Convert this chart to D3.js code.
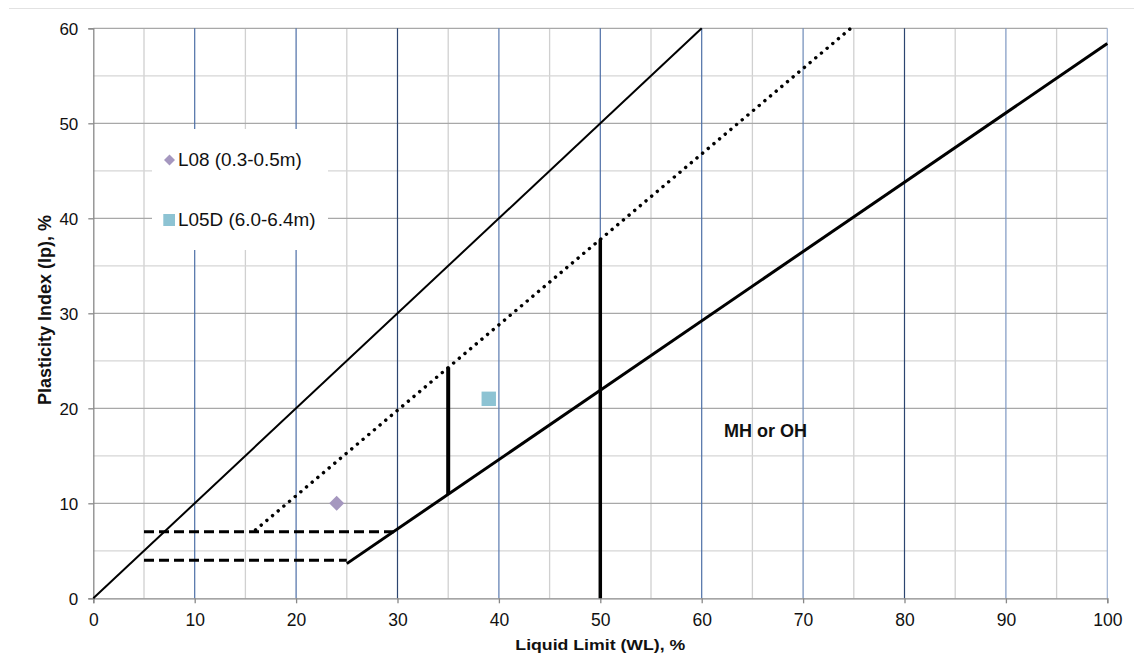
<!DOCTYPE html>
<html><head><meta charset="utf-8">
<script src="https://cdn.jsdelivr.net/npm/d3@7"></script>
<style>body{margin:0;background:#fff}svg{display:block;font-family:"Liberation Sans",Arial,sans-serif}</style>
</head><body><svg id="c" width="1134" height="656"></svg>
<script>
const xTicks = [0,10,20,30,40,50,60,70,80,90,100];
const yTicks = [0,10,20,30,40,50,60];
const limitLine = [[0,0],[60,60]];
const uLine = [[16,7.2],[74.7,60]];
const aLine = [[25,3.65],[100,58.4]];
const vLine35 = [[35,10.95],[35,24.3]];
const vLine50 = [[50,0],[50,37.8]];
const dash7 = [[5,7],[30,7]];
const dash4 = [[5,4],[25,4]];
const seriesNames = ["L08 (0.3-0.5m)","L05D (6.0-6.4m)"];
const seriesPoints = [[[24,10]],[[39,21]]];
const zoneLabel = {text:"MH or OH", x:66.3, y:17.7};

const svg = d3.select("#c");
const L=93.3,R=1107.3,T=28.3,B=598.3;
const x=d3.scaleLinear().domain([0,100]).range([L,R]);
const y=d3.scaleLinear().domain([0,60]).range([B,T]);

svg.append("line").attr("x1",9).attr("x2",1134).attr("y1",8.5).attr("y2",8.5).attr("stroke","#e2e2e2");

// grid
const g=svg.append("g");
d3.range(5,100,10).forEach(v=>g.append("line").attr("x1",x(v)).attr("x2",x(v)).attr("y1",T).attr("y2",B).attr("stroke","#d0d0d0").attr("stroke-width",1.3));
d3.range(5,60,10).forEach(v=>g.append("line").attr("x1",L).attr("x2",R).attr("y1",y(v)).attr("y2",y(v)).attr("stroke","#d6d6d6").attr("stroke-width",1.3));
yTicks.filter(v=>v>0).forEach(v=>g.append("line").attr("x1",L).attr("x2",R).attr("y1",y(v)).attr("y2",y(v)).attr("stroke","#a8a8a8").attr("stroke-width",1.3));
const vcol={10:"#4c6ea6",20:"#4c6ea6",30:"#2c4570",40:"#5a7ab0",50:"#4c6ea6",60:"#4c6ea6",70:"#6d8ab8",80:"#2c4570",90:"#7e98c2",100:"#9fb3d3"};
xTicks.filter(v=>v>0).forEach(v=>g.append("line").attr("x1",x(v)).attr("x2",x(v)).attr("y1",T).attr("y2",B).attr("stroke",vcol[v]).attr("stroke-width",1.2));

// axes
const xa=svg.append("g").attr("transform",`translate(0,${B})`).call(d3.axisBottom(x).tickValues(xTicks).tickSize(5).tickPadding(10));
const ya=svg.append("g").attr("transform",`translate(${L},0)`).call(d3.axisLeft(y).tickValues(yTicks).tickSize(5).tickPadding(10));
[xa,ya].forEach(a=>{a.selectAll("path,line").attr("stroke","#888").attr("stroke-width",1.3);a.selectAll("text").attr("fill","#111").attr("font-family","Liberation Sans, Arial");});
xa.selectAll("text").attr("font-size",17.5);
ya.selectAll("text").attr("font-size",17).attr("x",-15).attr("dy","0.35em");

// legend background
const leg=svg.append("g");
leg.append("rect").attr("x",152).attr("y",129).attr("width",176).attr("height",121).attr("fill","#fff");

// lines
const line=d3.line().x(d=>x(d[0])).y(d=>y(d[1]));
const ln=(d,w,dash,cap)=>svg.append("path").attr("d",line(d)).attr("fill","none").attr("stroke","#000").attr("stroke-width",w).attr("stroke-dasharray",dash||null).attr("stroke-linecap",cap||"butt");
ln(limitLine,2);
ln(uLine,3.4,"0.1 7.3","round");
ln(aLine,3);
ln(vLine35,4);
ln(vLine50,3.5);
ln(dash7,3,"10 5");
ln(dash4,3,"10 5");

// points
const colors=["#a597bf","#8dc3d3"];
const diamond=(cx,cy,r)=>`M${cx},${cy-r}L${cx+r},${cy}L${cx},${cy+r}L${cx-r},${cy}Z`;
seriesPoints.forEach((pts,i)=>{
  pts.forEach(p=>{
    if(i===0) svg.append("path").attr("d",diamond(x(p[0]),y(p[1]),7.5)).attr("fill",colors[i]);
    else svg.append("rect").attr("x",x(p[0])-7.2).attr("y",y(p[1])-7.2).attr("width",14.4).attr("height",14.4).attr("fill",colors[i]);
  });
});

// legend entries
const legY=[160,220];
seriesNames.forEach((n,i)=>{
  if(i===0) leg.append("path").attr("d",diamond(169.5,legY[i],5.5)).attr("fill",colors[i]);
  else leg.append("rect").attr("x",163.3).attr("y",legY[i]-6).attr("width",11.7).attr("height",12).attr("fill",colors[i]);
  leg.append("text").attr("transform",`translate(178,${legY[i]+6}) scale(1.05,1)`).attr("font-size",18).attr("fill","#111").text(n);
});

svg.append("text").attr("x",x(zoneLabel.x)).attr("y",y(zoneLabel.y)+6.5).attr("text-anchor","middle").attr("font-size",18).attr("font-weight","bold").attr("fill","#111").text(zoneLabel.text);

svg.append("text").attr("transform",`translate(${(L+R)/2},650) scale(1.18,1)`).attr("text-anchor","middle").attr("font-size",15).attr("font-weight","bold").attr("fill","#111").text("Liquid Limit (WL), %");
svg.append("text").attr("transform",`translate(51,310) rotate(-90)`).attr("text-anchor","middle").attr("font-size",18).attr("font-weight","bold").attr("fill","#111").text("Plasticity Index (Ip), %");
</script></body></html>
